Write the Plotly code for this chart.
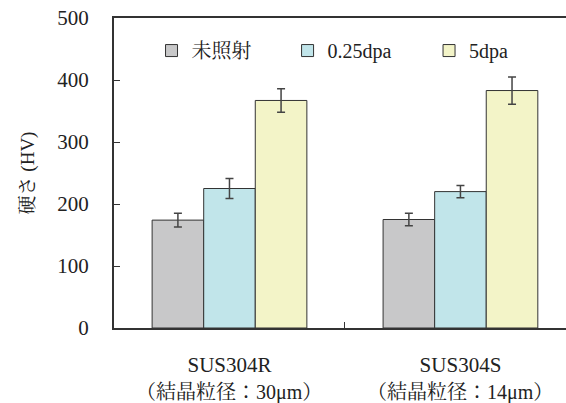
import plotly.graph_objects as go

# Vickers hardness before/after irradiation for two SUS304 grain sizes
materials = ["SUS304R", "SUS304S"]
grain_notes = ["（結晶粒径：30μm）", "（結晶粒径：14μm）"]
series_names = ["未照射", "0.25dpa", "5dpa"]
hardness = [
    [174, 175],   # 未照射
    [225, 220],   # 0.25dpa
    [367, 383],   # 5dpa
]
errors = [
    [11, 10],
    [16, 10],
    [19, 22],
]
colors = ["#c8c8c9", "#c1e5ea", "#f3f4c8"]
y_ticks = [0, 100, 200, 300, 400, 500]

SERIF = "'Liberation Serif', 'Noto Serif CJK JP', 'Noto Sans CJK JP', serif"
INK = "#333333"
TEXT = "#222222"

# each series gets its own legend box so the entries can be spaced freely
legend_ids = ["legend", "legend2", "legend3"]
legend_x = [0.083, 0.384, 0.697]

fig = go.Figure()
for name, vals, errs, col, lid in zip(series_names, hardness, errors, colors, legend_ids):
    fig.add_trace(go.Bar(
        name=name,
        x=materials,
        y=vals,
        legend=lid,
        marker=dict(color=col, line=dict(color=INK, width=1)),
        error_y=dict(type="data", array=errs, visible=True,
                     color="#444444", thickness=1.5, width=4),
    ))

# second line of each category label
for m, note in zip(materials, grain_notes):
    fig.add_annotation(x=m, y=0, xref="x", yref="paper", text=note,
                       showarrow=False, yanchor="top", yshift=-51,
                       font=dict(family=SERIF, size=20, color=TEXT))

legend_style = dict(orientation="h", y=0.895, xanchor="left", yanchor="middle",
                    bgcolor="rgba(0,0,0,0)",
                    font=dict(family=SERIF, size=20, color=TEXT))

fig.update_layout(
    width=566, height=403,
    margin=dict(l=114, r=0, t=18, b=75),
    paper_bgcolor="white", plot_bgcolor="white",
    barmode="group", bargap=0.33, bargroupgap=0,
    showlegend=True,
    legend=dict(x=legend_x[0], **legend_style),
    legend2=dict(x=legend_x[1], **legend_style),
    legend3=dict(x=legend_x[2], **legend_style),
    xaxis=dict(
        type="category", range=[-0.5, 1.457],
        showline=True, linecolor=INK, linewidth=2, mirror=True,
        tickson="boundaries", ticks="inside", ticklen=6, tickcolor=INK, tickwidth=1,
        tickfont=dict(family=SERIF, size=21, color=TEXT),
        ticklabelstandoff=17, showgrid=False, zeroline=False,
    ),
    yaxis=dict(
        range=[0, 500], tickvals=y_ticks,
        showline=True, linecolor=INK, linewidth=2,
        ticks="inside", ticklen=6, tickcolor=INK, tickwidth=1,
        tickfont=dict(family=SERIF, size=21, color=TEXT),
        ticklabelstandoff=19, showgrid=False, zeroline=False,
        title=dict(text="硬さ (HV)", standoff=18,
                   font=dict(family=SERIF, size=19, color=TEXT)),
    ),
)

fig.write_html("out.html")
